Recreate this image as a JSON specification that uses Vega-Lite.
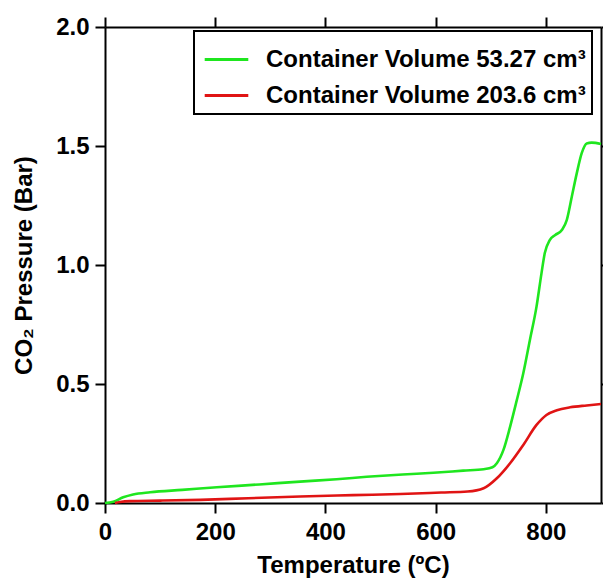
{
  "$schema": "https://vega.github.io/schema/vega-lite/v6.json",
  "width": 496,
  "height": 476,
  "autosize": "none",
  "padding": {"left": 105, "top": 27, "right": 2, "bottom": 76},
  "background": "white",
  "config": {
    "view": {"stroke": null},
    "font": "Liberation Sans",
    "axis": {
      "domainColor": "black", "domainWidth": 2, "tickColor": "black", "tickWidth": 2, "tickSize": 10,
      "labelFont": "Liberation Sans", "labelFontSize": 24, "labelFontWeight": "bold", "labelColor": "black",
      "titleFont": "Liberation Sans", "titleFontSize": 24, "titleFontWeight": "bold", "titleColor": "black",
      "grid": false
    }
  },
  "data": {"values": [
    {"series": "Container Volume 53.27 cm³", "T": 0, "P": 0},
    {"series": "Container Volume 53.27 cm³", "T": 15, "P": 0.005},
    {"series": "Container Volume 53.27 cm³", "T": 33, "P": 0.024},
    {"series": "Container Volume 53.27 cm³", "T": 51, "P": 0.036},
    {"series": "Container Volume 53.27 cm³", "T": 82, "P": 0.045},
    {"series": "Container Volume 53.27 cm³", "T": 140, "P": 0.055},
    {"series": "Container Volume 53.27 cm³", "T": 203, "P": 0.066},
    {"series": "Container Volume 53.27 cm³", "T": 280, "P": 0.078},
    {"series": "Container Volume 53.27 cm³", "T": 354, "P": 0.09},
    {"series": "Container Volume 53.27 cm³", "T": 420, "P": 0.1},
    {"series": "Container Volume 53.27 cm³", "T": 475, "P": 0.11},
    {"series": "Container Volume 53.27 cm³", "T": 540, "P": 0.12},
    {"series": "Container Volume 53.27 cm³", "T": 596, "P": 0.127},
    {"series": "Container Volume 53.27 cm³", "T": 650, "P": 0.136},
    {"series": "Container Volume 53.27 cm³", "T": 687, "P": 0.142},
    {"series": "Container Volume 53.27 cm³", "T": 703, "P": 0.15},
    {"series": "Container Volume 53.27 cm³", "T": 711, "P": 0.167},
    {"series": "Container Volume 53.27 cm³", "T": 723, "P": 0.223},
    {"series": "Container Volume 53.27 cm³", "T": 735, "P": 0.32},
    {"series": "Container Volume 53.27 cm³", "T": 747, "P": 0.43},
    {"series": "Container Volume 53.27 cm³", "T": 759, "P": 0.545},
    {"series": "Container Volume 53.27 cm³", "T": 771, "P": 0.685},
    {"series": "Container Volume 53.27 cm³", "T": 783, "P": 0.825},
    {"series": "Container Volume 53.27 cm³", "T": 792, "P": 0.965},
    {"series": "Container Volume 53.27 cm³", "T": 798, "P": 1.05},
    {"series": "Container Volume 53.27 cm³", "T": 807, "P": 1.105},
    {"series": "Container Volume 53.27 cm³", "T": 817, "P": 1.126},
    {"series": "Container Volume 53.27 cm³", "T": 829, "P": 1.147},
    {"series": "Container Volume 53.27 cm³", "T": 838, "P": 1.19},
    {"series": "Container Volume 53.27 cm³", "T": 847, "P": 1.287},
    {"series": "Container Volume 53.27 cm³", "T": 856, "P": 1.385},
    {"series": "Container Volume 53.27 cm³", "T": 865, "P": 1.47},
    {"series": "Container Volume 53.27 cm³", "T": 874, "P": 1.511},
    {"series": "Container Volume 53.27 cm³", "T": 883, "P": 1.514},
    {"series": "Container Volume 53.27 cm³", "T": 900, "P": 1.508},
    {"series": "Container Volume 203.6 cm³", "T": 18, "P": 0},
    {"series": "Container Volume 203.6 cm³", "T": 27, "P": 0.004},
    {"series": "Container Volume 203.6 cm³", "T": 45, "P": 0.008},
    {"series": "Container Volume 203.6 cm³", "T": 100, "P": 0.01},
    {"series": "Container Volume 203.6 cm³", "T": 173, "P": 0.013},
    {"series": "Container Volume 203.6 cm³", "T": 260, "P": 0.02},
    {"series": "Container Volume 203.6 cm³", "T": 354, "P": 0.027},
    {"series": "Container Volume 203.6 cm³", "T": 450, "P": 0.033},
    {"series": "Container Volume 203.6 cm³", "T": 536, "P": 0.038},
    {"series": "Container Volume 203.6 cm³", "T": 610, "P": 0.044},
    {"series": "Container Volume 203.6 cm³", "T": 658, "P": 0.048},
    {"series": "Container Volume 203.6 cm³", "T": 687, "P": 0.062},
    {"series": "Container Volume 203.6 cm³", "T": 711, "P": 0.104},
    {"series": "Container Volume 203.6 cm³", "T": 735, "P": 0.167},
    {"series": "Container Volume 203.6 cm³", "T": 759, "P": 0.244},
    {"series": "Container Volume 203.6 cm³", "T": 783, "P": 0.328},
    {"series": "Container Volume 203.6 cm³", "T": 801, "P": 0.37},
    {"series": "Container Volume 203.6 cm³", "T": 820, "P": 0.39},
    {"series": "Container Volume 203.6 cm³", "T": 844, "P": 0.402},
    {"series": "Container Volume 203.6 cm³", "T": 874, "P": 0.41},
    {"series": "Container Volume 203.6 cm³", "T": 900, "P": 0.416}
  ]},
  "layer": [
    {
      "mark": {"type": "line", "strokeWidth": 2.6, "interpolate": "monotone"},
      "encoding": {
        "x": {"field": "T", "type": "quantitative",
              "scale": {"domain": [0, 900], "nice": false, "zero": false},
              "axis": {"orient": "bottom", "title": "Temperature (ºC)", "values": [0, 200, 400, 600, 800],
                       "labelPadding": 7, "titlePadding": 9, "labelFlush": false}},
        "y": {"field": "P", "type": "quantitative",
              "scale": {"domain": [0, 2], "nice": false},
              "axis": {"orient": "left", "title": "CO₂ Pressure (Bar)", "values": [0, 0.5, 1, 1.5, 2],
                       "format": ".1f", "labelPadding": 6, "titlePadding": 19, "labelFlush": false}},
        "color": {"field": "series", "type": "nominal",
                  "scale": {"domain": ["Container Volume 53.27 cm³", "Container Volume 203.6 cm³"],
                            "range": ["#1fe61f", "#e01414"]},
                  "legend": {
                    "orient": "none", "legendX": 89, "legendY": 4,
                    "title": " ", "titleFontSize": 9, "titlePadding": 2,
                    "padding": 6, "strokeColor": "black", "fillColor": "white",
                    "symbolType": "stroke", "symbolSize": 1900, "symbolStrokeWidth": 3,
                    "symbolOffset": 3, "clipHeight": 23, "rowPadding": 11, "labelOffset": 16,
                    "labelFont": "Liberation Sans", "labelFontSize": 24, "labelFontWeight": "bold",
                    "labelColor": "black", "labelLimit": 0,
                    "encode": {"legend": {"update": {"strokeWidth": {"value": 2}}}}
                  }}
      }
    },
    {
      "mark": {"type": "line", "opacity": 0},
      "encoding": {
        "x": {"field": "T", "type": "quantitative",
              "axis": {"orient": "top", "title": null, "labels": false, "values": [0, 200, 400, 600, 800]}},
        "y": {"field": "P", "type": "quantitative",
              "axis": {"orient": "right", "title": null, "labels": false, "values": [0, 0.5, 1, 1.5, 2]}}
      }
    }
  ],
  "resolve": {"axis": {"x": "independent", "y": "independent"}}
}
